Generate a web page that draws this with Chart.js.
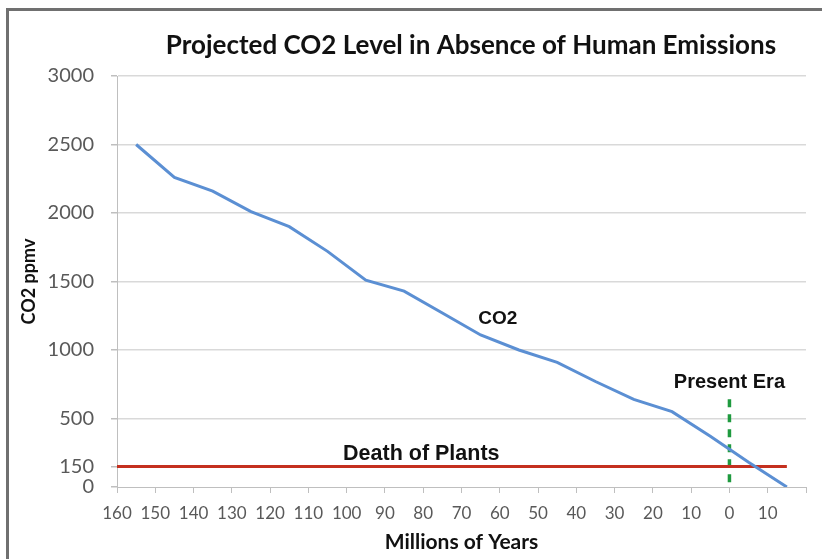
<!DOCTYPE html>
<html>
<head>
<meta charset="utf-8">
<script src="https://cdn.jsdelivr.net/npm/chart.js@4.4.1/dist/chart.umd.min.js"></script>
<style>
  body { margin: 0; background: #fff; overflow: hidden; }
  #wrap { position: relative; width: 822px; height: 559px; }
  #frame { position: absolute; left: 6px; top: 8px; width: 830px; height: 560px;
           border-left: 3px solid #707070; border-top: 3px solid #707070; pointer-events: none; }
</style>
</head>
<body>
<div id="wrap">
  <canvas id="co2Chart" width="822" height="559"></canvas>
  <div id="frame"></div>
</div>
<script>
// millions of years before present (negative = future)
const years = [155, 145, 135, 125, 115, 105, 95, 85, 75, 65, 55, 45, 35, 25, 15, 5, -5, -15];
const co2Levels = [2500, 2260, 2160, 2010, 1900, 1720, 1510, 1430, 1270, 1110, 1000, 910, 770, 640, 550, 370, 180, 0];

const yTicks = [0, 150, 500, 1000, 1500, 2000, 2500, 3000];

const deathYears = [160, -15];
const deathLevels = [150, 150];

const presentYears = [0, 0];
const presentLevels = [640, 0];

const titleText = 'Projected CO2 Level in Absence of Human Emissions';

const toPoints = (xs, ys) => xs.map((x, i) => ({ x: x, y: ys[i] }));

// title + text annotations
const labelsPlugin = {
  id: 'labels',
  afterDatasetsDraw(chart) {
    const ctx = chart.ctx;
    const xs = chart.scales.x;
    const ys = chart.scales.y;
    ctx.save();
    ctx.fillStyle = '#111';
    ctx.textAlign = 'center';
    ctx.textBaseline = 'middle';

    ctx.font = 'bold 26px Lato';
    ctx.fillText(titleText, 471, 46);

    ctx.font = 'bold 19px "Liberation Sans"';
    ctx.fillText('CO2', xs.getPixelForValue(60.5), ys.getPixelForValue(1230));

    ctx.font = 'bold 20px "Liberation Sans"';
    ctx.fillText('Present Era', xs.getPixelForValue(0), ys.getPixelForValue(640) - 17);

    ctx.font = 'bold 21.5px "Liberation Sans"';
    ctx.textBaseline = 'alphabetic';
    ctx.fillText('Death of Plants', xs.getPixelForValue(80.5), ys.getPixelForValue(150) - 6);
    ctx.restore();
  }
};

new Chart(document.getElementById('co2Chart'), {
  type: 'line',
  data: {
    datasets: [
      {
        label: 'CO2',
        data: toPoints(years, co2Levels),
        borderColor: '#5b8fd3',
        borderWidth: 3,
        pointRadius: 0,
        tension: 0
      },
      {
        label: 'Death of Plants',
        data: toPoints(deathYears, deathLevels),
        borderColor: '#c4301f',
        borderWidth: 3,
        pointRadius: 0
      },
      {
        label: 'Present Era',
        data: toPoints(presentYears, presentLevels),
        borderColor: '#1f9a3f',
        borderWidth: 3.5,
        borderDash: [8, 7],
        pointRadius: 0
      }
    ]
  },
  options: {
    responsive: false,
    animation: false,
    layout: { padding: { top: 76, left: 12, right: 16, bottom: 0 } },
    plugins: {
      legend: { display: false },
      tooltip: { enabled: false }
    },
    scales: {
      x: {
        type: 'linear',
        reverse: true,
        min: -20,
        max: 160,
        afterFit: (scale) => { scale.height = 72; },
        ticks: {
          stepSize: 10,
          autoSkip: false,
          maxRotation: 0,
          padding: 10,
          color: '#595959',
          font: { family: 'Lato', size: 17 },
          callback: (v) => (v === -20 ? '' : String(Math.abs(v)))
        },
        grid: { drawOnChartArea: false, tickLength: 6, tickColor: '#bfbfbf' },
        border: { color: '#bfbfbf' },
        title: {
          display: true,
          text: 'Millions of Years',
          color: '#111',
          font: { family: 'Lato', size: 21, weight: 'bold' },
          padding: { top: 0, bottom: 4 }
        }
      },
      y: {
        min: 0,
        max: 3000,
        afterFit: (scale) => { scale.width = 105; },
        afterBuildTicks: (scale) => { scale.ticks = yTicks.map((v) => ({ value: v })); },
        ticks: {
          padding: 17,
          color: '#595959',
          font: { family: 'Lato', size: 20 },
          callback: (v) => String(v)
        },
        grid: {
          tickLength: 6,
          lineWidth: 1.5,
          tickColor: '#bfbfbf',
          color: (c) => (c.tick && c.tick.value > 150 ? '#d9d9d9' : 'rgba(0,0,0,0)')
        },
        border: { color: '#bfbfbf' },
        title: {
          display: true,
          text: 'CO2 ppmv',
          color: '#111',
          font: { family: 'Lato', size: 18, weight: 'bold' },
          padding: { top: 6, bottom: 0 }
        }
      }
    }
  },
  plugins: [labelsPlugin]
});
</script>
</body>
</html>
